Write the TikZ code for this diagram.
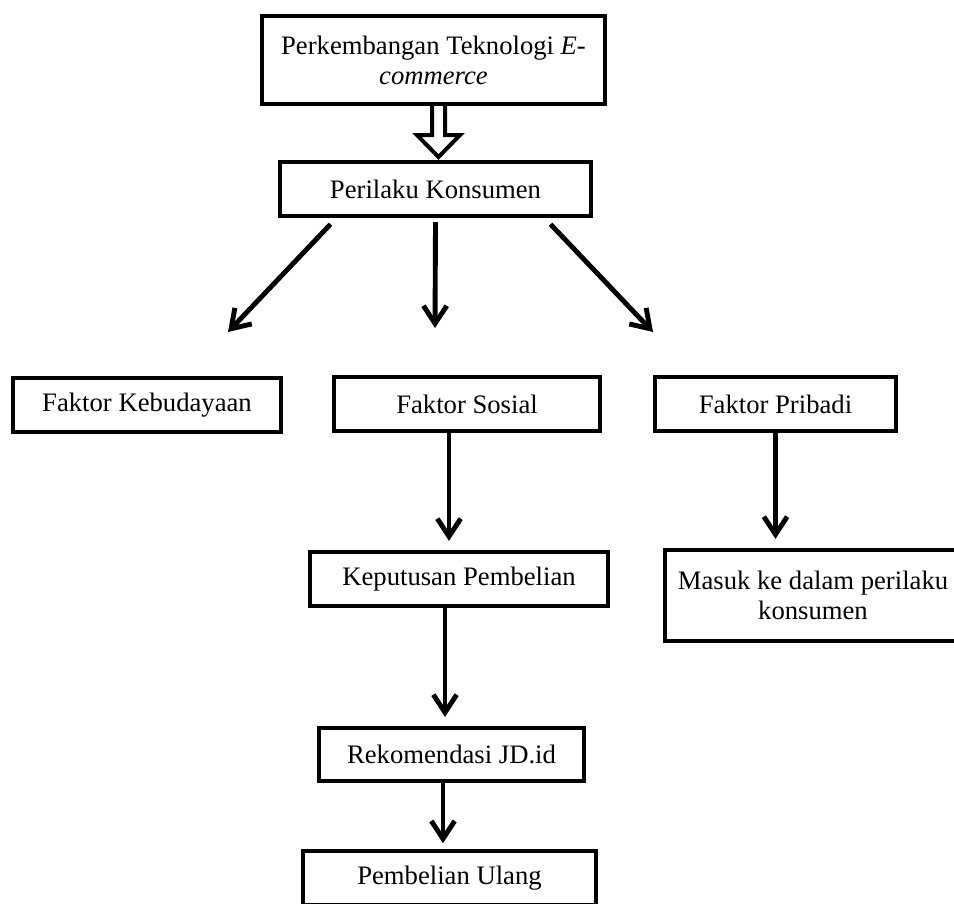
\documentclass[tikz,border=0pt]{standalone}
\usepackage{fontspec}
\setmainfont{Liberation Serif}
\usetikzlibrary{arrows.meta}
\newcommand{\satuan}{0.45pt}
\tikzset{>={Straight Barb[length=8pt,width=10.5pt]}}
\tikzset{kotak/.style={draw, rectangle, line width=2pt, inner sep=2pt, align=center, font=\fontsize{12}{13.6}\selectfont},
  panah/.style={->, line width=2.2pt}}

\begin{document}
\begin{tikzpicture}[x=\satuan, y=-\satuan]
  \useasboundingbox (0,0) rectangle (954,903);

  % kotak-kotak
  \node[kotak, minimum width=343*\satuan, minimum height=88*\satuan] (teknologi) at (433.5,60) {Perkembangan Teknologi \textit{E-}\\\textit{commerce}};
  \node[kotak, minimum width=311*\satuan, minimum height=54*\satuan] (perilaku) at (435.5,189) {Perilaku Konsumen};
  \node[kotak, minimum width=268*\satuan, minimum height=54*\satuan] (budaya) at (147,405) {Faktor Kebudayaan};
  \node[kotak, minimum width=266*\satuan, minimum height=54*\satuan] (sosial) at (467,404) {Faktor Sosial};
  \node[kotak, minimum width=241*\satuan, minimum height=54*\satuan] (pribadi) at (775.5,404) {Faktor Pribadi};
  \node[kotak, minimum width=298*\satuan, minimum height=54*\satuan] (keputusan) at (459,579) {Keputusan Pembelian};
  \node[kotak, minimum width=296*\satuan, minimum height=91*\satuan] (masuk) at (813,595.5) {Masuk ke dalam perilaku\\konsumen};
  \node[kotak, minimum width=265*\satuan, minimum height=53*\satuan] (rekomendasi) at (451.5,754.5) {Rekomendasi JD.id};
  \node[kotak, minimum width=293*\satuan, minimum height=54*\satuan] (ulang) at (449.5,878) {Pembelian Ulang};

  % panah kosong
  \draw[line width=1.8pt, fill=white] (432,106) -- (432,135) -- (417,135) -- (438.5,157) -- (460,135) -- (445,135) -- (445,106);

  % panah bercabang
  \coordinate (kiri) at (228,332);
  \coordinate (tengah) at (435,328);
  \coordinate (kanan) at (653,332);
  \draw[panah] ([xshift=-105*\satuan, yshift=-6*\satuan]perilaku.south) -- (kiri);
  \draw[panah] ([yshift=-4*\satuan]perilaku.south) -- (tengah);
  \draw[panah] ([xshift=115*\satuan, yshift=-6*\satuan]perilaku.south) -- (kanan);

  % panah lurus
  \draw[panah, shorten >=4pt] ([xshift=-18*\satuan]sosial.south) -- ([xshift=-18*\satuan]sosial.south |- keputusan.north);
  \draw[panah, shorten >=4pt] (pribadi.south) -- (pribadi.south |- masuk.north);
  \draw[panah, shorten >=4pt] ([xshift=-14*\satuan]keputusan.south) -- ([xshift=-14*\satuan]keputusan.south |- rekomendasi.north);
  \draw[panah, shorten >=2.5pt] ([xshift=-8.5*\satuan]rekomendasi.south) -- ([xshift=-8.5*\satuan]rekomendasi.south |- ulang.north);
\end{tikzpicture}
\end{document}
